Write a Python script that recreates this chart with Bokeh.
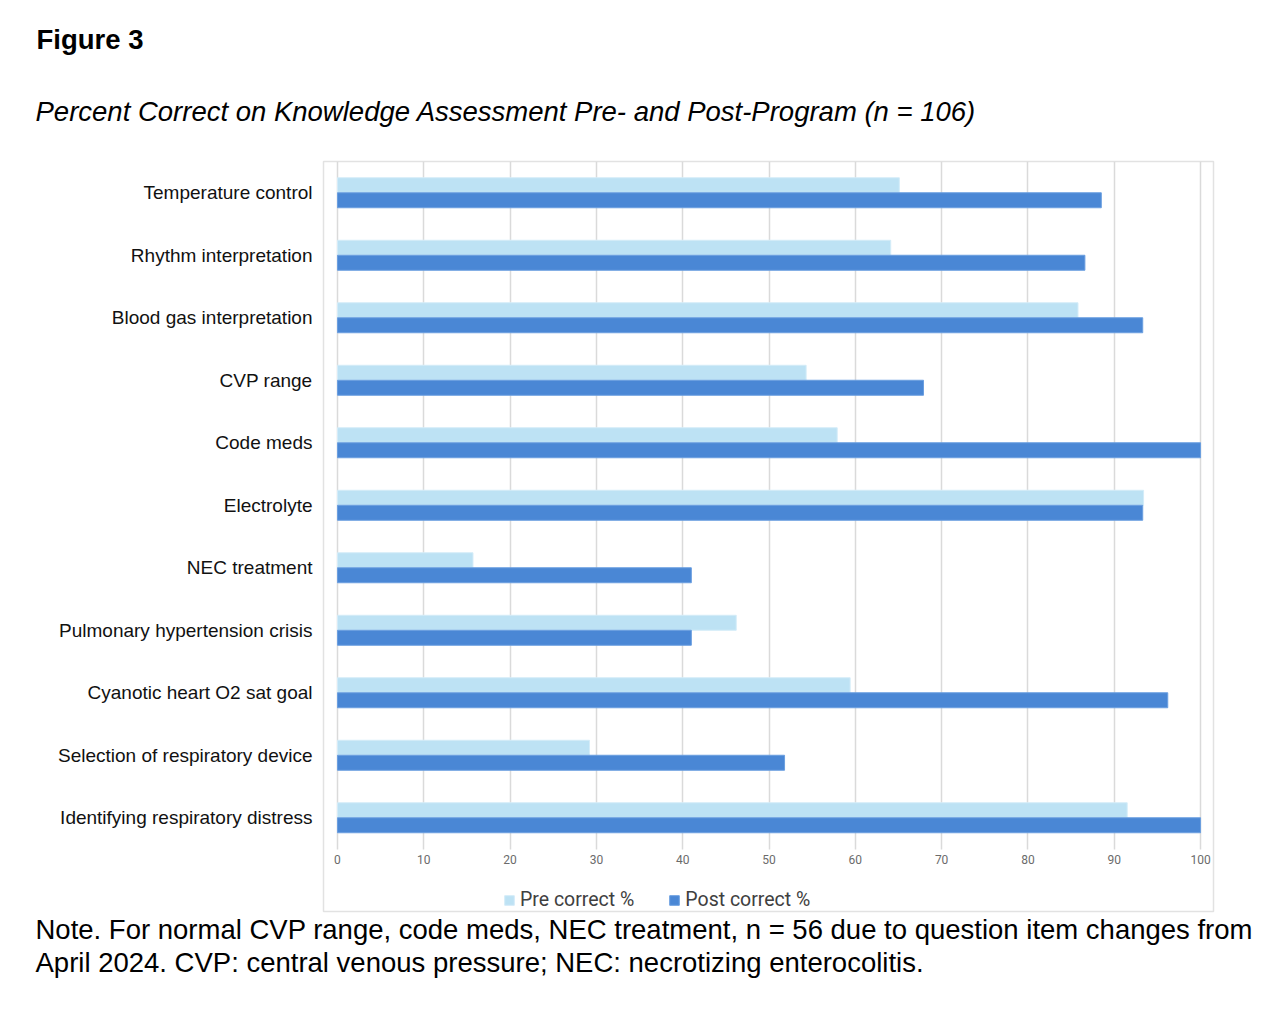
from bokeh.plotting import figure
from bokeh.models import (ColumnDataSource, FactorRange, Range1d, Legend, LegendItem,
                          FixedTicker, Title)
from bokeh.transform import dodge
from bokeh.embed import file_html
from bokeh.resources import INLINE

categories = ["Temperature control", "Rhythm interpretation", "Blood gas interpretation",
              "CVP range", "Code meds", "Electrolyte", "NEC treatment",
              "Pulmonary hypertension crisis", "Cyanotic heart O2 sat goal",
              "Selection of respiratory device", "Identifying respiratory distress"]
pre_correct = [65.1, 64.1, 85.8, 54.3, 57.9, 93.4, 15.7, 46.2, 59.4, 29.2, 91.5]
post_correct = [88.5, 86.6, 93.3, 67.9, 100.0, 93.3, 41.0, 41.0, 96.2, 51.8, 100.0]
x_ticks = [0, 10, 20, 30, 40, 50, 60, 70, 80, 90, 100]
series_names = ["Pre correct %", "Post correct %"]

title_text = "Figure 3"
subtitle_text = "Percent Correct on Knowledge Assessment Pre- and Post-Program (n = 106)"
note_lines = ["Note. For normal CVP range, code meds, NEC treatment, n = 56 due to question item changes from",
              "April 2024. CVP: central venous pressure; NEC: necrotizing enterocolitis."]

PRE_COLOR = "#bde2f4"
POST_COLOR = "#4a87d5"

W, H = 1288, 1014
FL, FR, FT, FB = 323, 1213, 161, 911   # frame (chart box incl. legend area)

# a blank factor at the bottom leaves room for tick labels and legend inside the box
factors = [""] + list(reversed(categories))

src = ColumnDataSource(dict(cat=categories, pre=pre_correct, post=post_correct))

p = figure(output_backend="svg", toolbar_location=None,
           y_range=FactorRange(*factors, range_padding=0),
           x_range=Range1d(-1.62, 101.5),
           frame_width=FR - FL, frame_height=FB - FT,
           min_border_left=FL, min_border_right=W - FR,
           min_border_top=FT, min_border_bottom=H - FB)
p.outline_line_color = "#e2e2e2"
p.outline_line_width = 1.5
p.background_fill_color = "white"
p.border_fill_color = "white"

r_pre = p.hbar(y=dodge("cat", 0.12, range=p.y_range), right="pre", left=0, height=0.24,
               source=src, fill_color=PRE_COLOR, line_color="#d4ecf8", line_width=1)
r_post = p.hbar(y=dodge("cat", -0.12, range=p.y_range), right="post", left=0, height=0.24,
                source=src, fill_color=POST_COLOR, line_color="#6b9fe0", line_width=1)

# x axis drawn at the bottom of the category area (inside the box)
p.xaxis.fixed_location = 1.0
p.xaxis.ticker = FixedTicker(ticks=x_ticks)
p.xaxis.axis_line_color = None
p.xaxis.major_tick_line_color = None
p.xaxis.minor_tick_line_color = None
p.xaxis.major_tick_out = 0
p.xaxis.major_label_standoff = 6
p.xaxis.major_label_text_font = "Roboto"
p.xaxis.major_label_text_font_size = "12px"
p.xaxis.major_label_text_color = "#6b6b6b"

p.yaxis.axis_line_color = None
p.yaxis.major_tick_line_color = None
p.yaxis.major_tick_out = 0
p.yaxis.major_label_standoff = 11
p.yaxis.major_label_text_font = "Liberation Sans"
p.yaxis.major_label_text_font_size = "19px"
p.yaxis.major_label_text_color = "#111111"

p.ygrid.grid_line_color = None
p.xgrid.grid_line_color = "#dadada"
p.xgrid.grid_line_width = 1.5
p.xgrid.ticker = FixedTicker(ticks=x_ticks)
p.xgrid.cross_bounds = (1.0, float(len(factors)))

legend = Legend(items=[LegendItem(label=series_names[0], renderers=[r_pre]),
                       LegendItem(label=series_names[1], renderers=[r_post])],
                orientation="horizontal", location=(503 - FL, 0),
                padding=0, margin=0, spacing=34, label_standoff=5,
                glyph_width=12, glyph_height=12,
                border_line_color=None, background_fill_alpha=0,
                label_text_font="Roboto", label_text_font_size="19.5px",
                label_text_color="#404040")
p.add_layout(legend)

# header (stacked outward from the frame: subtitle first)
p.add_layout(Title(text=subtitle_text, align="left", offset=35 - FL, text_font="Liberation Sans",
                   text_font_size="27.5px", text_font_style="italic", text_color="black",
                   standoff=70), "above")
p.add_layout(Title(text=title_text, align="left", offset=36 - FL, text_font="Liberation Sans",
                   text_font_size="27.5px", text_font_style="bold", text_color="black",
                   standoff=8), "above")

# notes below the chart box
for line in note_lines:
    p.add_layout(Title(text=line, align="left", offset=35 - FL, text_font="Liberation Sans",
                       text_font_size="27.5px", text_font_style="normal", text_color="black",
                       standoff=0), "below")

open("out.html", "w").write(file_html(p, INLINE))
